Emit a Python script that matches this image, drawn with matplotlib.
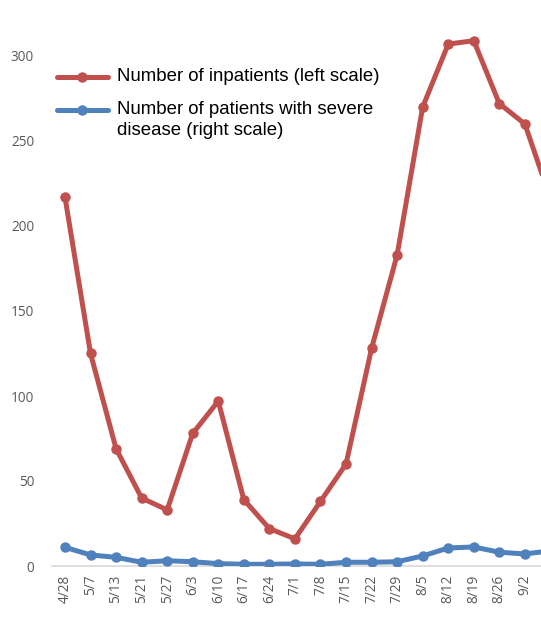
import matplotlib
matplotlib.use("Agg")
import matplotlib.pyplot as plt
from matplotlib.lines import Line2D

# Weekly dates (last one is cut off at the right edge)
dates = ["4/28", "5/7", "5/13", "5/21", "5/27", "6/3", "6/10", "6/17", "6/24", "7/1",
         "7/8", "7/15", "7/22", "7/29", "8/5", "8/12", "8/19", "8/26", "9/2", "9/9"]

# Number of inpatients (left scale)
inpatients = [217, 125, 69, 40, 33, 78, 97, 39, 22, 16,
              38, 60, 128, 183, 270, 307, 309, 272, 260, 216]

# Number of patients with severe disease (right scale, ticks cropped out)
severe = [11, 6.5, 5.1, 2.2, 3.1, 2.5, 1.4, 1.0, 1.0, 1.2,
          1.0, 2.2, 2.2, 2.5, 5.9, 10.6, 11.2, 8.1, 7.1, 8.9]

red = "#C0504D"
blue = "#4F81BD"
grey = "#595959"

fig = plt.figure(figsize=(5.41, 6.34), dpi=100)
# axes runs past the right and top edges, like the cropped reference
ax = fig.add_axes([52.2 / 541, 68 / 634, 511 / 541, 595 / 634])
ax2 = ax.twinx()

x = list(range(len(dates)))
ax.plot(x, inpatients, color=red, linewidth=3.6, marker="o", markersize=6.5,
        solid_capstyle="round", zorder=3)
ax2.plot(x, severe, color=blue, linewidth=3.6, marker="o", markersize=6.5,
         solid_capstyle="round", zorder=3)

ax.set_xlim(-0.5, len(dates) - 0.5)
ax.set_ylim(0, 350)
ax2.set_ylim(0, 350)

ax.set_yticks([0, 50, 100, 150, 200, 250, 300])
ax.tick_params(axis="y", length=0, pad=13, labelsize=9.8, labelcolor=grey)
# the last date label falls outside the cropped picture
ax.set_xticks(x[:-1])
ax.set_xticklabels(dates[:-1], rotation=90, fontsize=9.8, color=grey)
ax.tick_params(axis="x", length=0, pad=6)
for t in ax.get_yticklabels() + ax.get_xticklabels():
    t.set_fontfamily("Open Sans")

for s in ["top", "right", "left"]:
    ax.spines[s].set_visible(False)
    ax2.spines[s].set_visible(False)
ax.spines["bottom"].set_color("#D9D9D9")
ax.spines["bottom"].set_linewidth(1.2)
ax2.spines["bottom"].set_visible(False)
ax2.set_yticks([])

# Legend drawn by hand so the marker sits on the first text line
legend_items = [(red, 77, "Number of inpatients (left scale)"),
                (blue, 110, "Number of patients with severe\ndisease (right scale)")]
for color, ypix, label in legend_items:
    yf = 1 - ypix / 634
    fig.add_artist(Line2D([57 / 541, 108 / 541], [yf, yf], color=color, linewidth=3.6,
                          solid_capstyle="round", transform=fig.transFigure))
    fig.add_artist(Line2D([82 / 541], [yf], color=color, marker="o", markersize=6.5,
                          transform=fig.transFigure))
    fig.text(117 / 541, yf + 9 / 634, label, fontsize=13.4, family="Liberation Sans",
             color="black", va="top", ha="left", linespacing=1.3)

fig.savefig("out.png", dpi=100)
